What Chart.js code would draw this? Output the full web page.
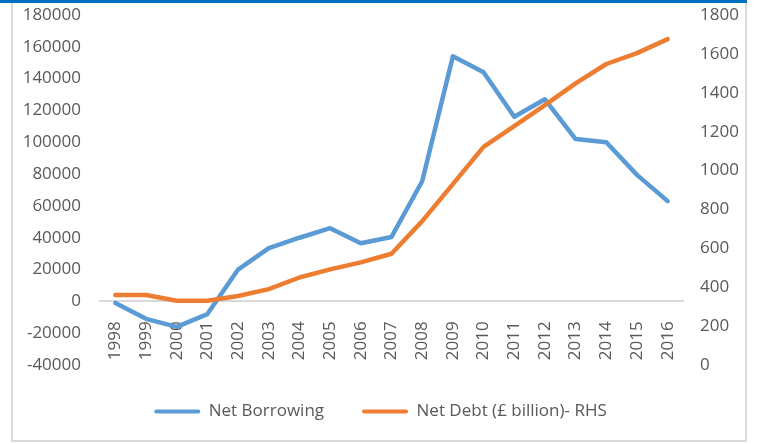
<!DOCTYPE html>
<html>
<head>
<meta charset="utf-8">
<script src="https://cdn.jsdelivr.net/npm/chart.js@4.4.1/dist/chart.umd.min.js"></script>
<style>
  html, body { margin: 0; padding: 0; background: #ffffff; }
  #wrap { position: relative; width: 761px; height: 444px; overflow: hidden; }
  #topbar { position: absolute; left: 0; top: 0; width: 747px; height: 3px; background: #0070c0; }
  #frame { position: absolute; left: 11px; top: 3px; width: 732px; height: 437px;
           border-left: 2px solid #d9d9d9; border-right: 2px solid #d9d9d9; border-bottom: 2px solid #d9d9d9; }
  canvas { position: absolute; left: 0; top: 0; }
</style>
</head>
<body>
<div id="wrap">
  <div id="topbar"></div>
  <div id="frame"></div>
  <canvas id="chart" width="761" height="444"></canvas>
</div>
<script>
// Years on the category axis
const years = ['1998','1999','2000','2001','2002','2003','2004','2005','2006','2007',
               '2008','2009','2010','2011','2012','2013','2014','2015','2016'];

// Public sector net borrowing (£ million), left axis
const netBorrowing = [-1000, -11000, -16000, -8000, 20000, 33500, 40000, 46000, 36500, 40500,
                      75500, 154000, 144000, 116000, 127000, 102000, 100000, 79500, 63000];

// Public sector net debt (£ billion), right axis
const netDebt = [360, 360, 330, 330, 355, 390, 450, 492, 528, 572,
                 740, 930, 1122, 1228, 1336, 1448, 1548, 1604, 1676];

const textColor = '#595959';
const font = { family: '"Open Sans", sans-serif', size: 17 };
const plainNumber = v => String(v);

new Chart(document.getElementById('chart'), {
  type: 'line',
  data: {
    labels: years,
    datasets: [
      {
        label: 'Net Borrowing',
        data: netBorrowing,
        yAxisID: 'y',
        borderColor: '#5b9bd5',
        backgroundColor: '#5b9bd5',
        borderWidth: 4.5,
        pointRadius: 0,
        tension: 0,
        borderCapStyle: 'round',
        borderJoinStyle: 'round',
        order: 1
      },
      {
        label: 'Net Debt (£ billion)- RHS',
        data: netDebt,
        yAxisID: 'y1',
        borderColor: '#ed7d31',
        backgroundColor: '#ed7d31',
        borderWidth: 4.5,
        pointRadius: 0,
        tension: 0,
        borderCapStyle: 'round',
        borderJoinStyle: 'round',
        order: 0
      }
    ]
  },
  options: {
    responsive: false,
    animation: false,
    devicePixelRatio: 1,
    layout: { padding: { top: 15, left: 0, right: 0, bottom: 14 } },
    plugins: {
      tooltip: { enabled: false },
      legend: {
        position: 'bottom',
        labels: {
          color: textColor,
          font: font,
          boxWidth: 46,
          boxHeight: 4,
          padding: 38,
          useBorderRadius: true,
          borderRadius: 2,
          sort: (a, b) => a.datasetIndex - b.datasetIndex,
          generateLabels: chart =>
            Chart.defaults.plugins.legend.labels.generateLabels(chart)
              .map(item => Object.assign(item, { lineWidth: 0 }))
        }
      }
    },
    scales: {
      x: {
        position: { y: 0 },
        offset: true,
        grid: { display: false, drawTicks: false },
        border: { display: true, color: '#d9d9d9', width: 2 },
        ticks: {
          color: textColor,
          font: font,
          minRotation: 90,
          maxRotation: 90,
          autoSkip: false,
          padding: 20
        },
        afterFit: s => { s.height = 0; }
      },
      y: {
        position: 'left',
        min: -40000,
        max: 180000,
        grid: { display: false, drawTicks: true, tickLength: 16 },
        border: { display: false },
        ticks: { stepSize: 20000, color: textColor, font: font, padding: 3, callback: plainNumber },
        afterFit: s => { s.width = 100; }
      },
      y1: {
        position: 'right',
        min: 0,
        max: 1800,
        grid: { display: false, drawTicks: true, tickLength: 14 },
        border: { display: false },
        ticks: { stepSize: 200, color: textColor, font: font, padding: 3, callback: plainNumber },
        afterFit: s => { s.width = 78; }
      }
    }
  }
});
</script>
</body>
</html>
